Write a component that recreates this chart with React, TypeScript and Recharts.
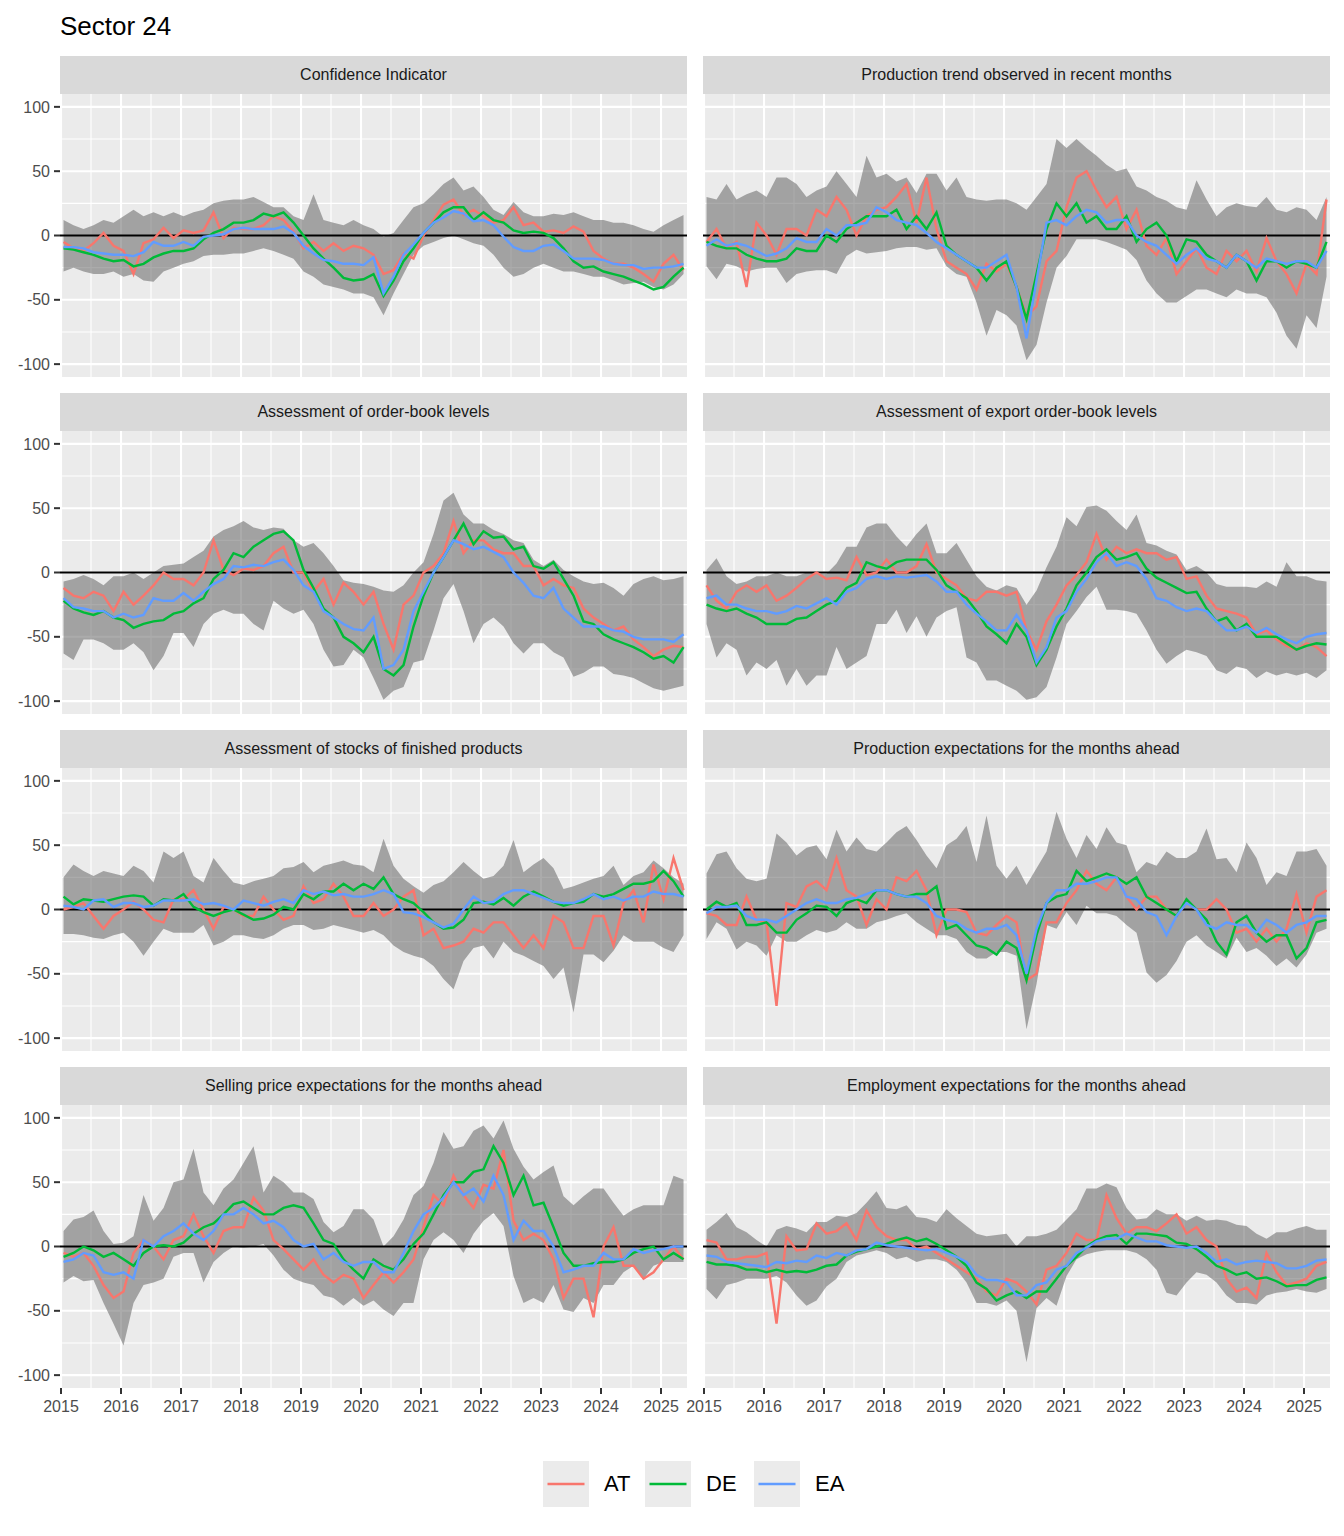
import React from 'react';
import {
  ComposedChart,
  Area,
  Line,
  XAxis,
  YAxis,
  CartesianGrid,
  ReferenceLine
} from 'recharts';

const months = [
  '2015-01', '2015-03', '2015-05', '2015-07', '2015-09', '2015-11',
  '2016-01', '2016-03', '2016-05', '2016-07', '2016-09', '2016-11',
  '2017-01', '2017-03', '2017-05', '2017-07', '2017-09', '2017-11',
  '2018-01', '2018-03', '2018-05', '2018-07', '2018-09', '2018-11',
  '2019-01', '2019-03', '2019-05', '2019-07', '2019-09', '2019-11',
  '2020-01', '2020-03', '2020-05', '2020-07', '2020-09', '2020-11',
  '2021-01', '2021-03', '2021-05', '2021-07', '2021-09', '2021-11',
  '2022-01', '2022-03', '2022-05', '2022-07', '2022-09', '2022-11',
  '2023-01', '2023-03', '2023-05', '2023-07', '2023-09', '2023-11',
  '2024-01', '2024-03', '2024-05', '2024-07', '2024-09', '2024-11',
  '2025-01', '2025-03', '2025-05'
];

const yearTicks = [2015, 2016, 2017, 2018, 2019, 2020, 2021, 2022, 2023, 2024, 2025];
const halfYears = [2015.5, 2016.5, 2017.5, 2018.5, 2019.5, 2020.5, 2021.5, 2022.5, 2023.5, 2024.5];
const valueTicks = [-100, -50, 0, 50, 100];
const minorValues = [-75, -25, 25, 75];

// Confidence Indicator
const ciAT = [-5, -10, -12, -6, 2, -8, -12, -30, -6, -3, 6, -2, 4, 2, 4, 18, -2, 6, 5, 5, 8, 15, 12, 3, -10, -5, -12, -6, -12, -8, -10, -15, -30, -27, -14, -18, 0, 12, 24, 28, 16, 20, 15, 10, 12, 22, 8, 10, 3, 4, 2, 7, 3, -12, -18, -22, -22, -25, -30, -36, -22, -15, -27];
const ciDE = [-10, -11, -13, -15, -18, -20, -19, -24, -22, -17, -14, -12, -12, -10, -3, 2, 5, 10, 10, 12, 17, 15, 18, 10, 0, -10, -18, -25, -33, -35, -34, -30, -47, -35, -20, -10, 2, 10, 18, 22, 22, 12, 18, 12, 10, 4, 2, 3, 2, -2, -10, -20, -25, -24, -28, -30, -32, -35, -38, -42, -40, -32, -25];
const ciEA = [-9, -9, -10, -13, -14, -15, -15, -16, -13, -5, -8, -8, -5, -8, -1, 0, 1, 5, 6, 5, 5, 5, 7, 2, -8, -14, -19, -20, -22, -22, -23, -17, -45, -32, -15, -7, 2, 10, 14, 19, 17, 11, 12, 8, -1, -9, -12, -12, -8, -7, -12, -18, -18, -18, -19, -22, -23, -23, -26, -25, -25, -24, -22];
const ciLo = [-28, -25, -28, -30, -30, -28, -32, -30, -35, -36, -28, -25, -22, -20, -16, -15, -15, -14, -14, -12, -10, -12, -15, -18, -28, -32, -38, -40, -42, -45, -45, -48, -62, -45, -30, -15, -8, -5, -2, 0, -3, -6, -8, -15, -25, -32, -30, -25, -22, -25, -28, -28, -30, -32, -32, -35, -38, -37, -36, -40, -42, -38, -30];
const ciHi = [12, 8, 5, 8, 12, 10, 15, 20, 15, 18, 15, 18, 15, 18, 20, 25, 27, 28, 28, 30, 26, 22, 22, 15, 12, 32, 12, 10, 8, 12, 8, 5, -1, 2, 12, 22, 25, 32, 40, 45, 35, 38, 30, 20, 16, 26, 18, 15, 15, 17, 16, 18, 15, 12, 12, 10, 10, 8, 5, 3, 8, 12, 16];

// Production trend observed in recent months
const ptAT = [-5, 5, -10, -5, -40, 10, 0, -15, 5, 5, 0, 20, 15, 30, 20, 0, 15, 20, 22, 30, 40, 10, 45, 5, -20, -25, -30, -42, -22, -28, -22, -40, -63, -55, -20, -12, 22, 45, 50, 35, 22, 30, 5, 20, -8, -15, -2, -30, -20, -10, -25, -30, -12, -20, -12, -28, -2, -20, -30, -45, -22, -30, 28];
const ptDE = [-5, -8, -10, -10, -15, -18, -20, -20, -18, -10, -12, -12, 0, -5, 5, 10, 15, 15, 15, 20, 5, 15, 5, 18, -8, -15, -20, -25, -35, -25, -20, -40, -65, -30, 5, 25, 15, 25, 10, 15, 5, 5, 15, -5, 5, 10, 0, -20, -3, -5, -15, -20, -25, -15, -20, -35, -20, -20, -25, -20, -22, -25, -5];
const ptEA = [-8, -3, -8, -6, -8, -12, -16, -14, -10, -2, -5, -5, 5, 0, 8, 8, 10, 22, 18, 12, 10, 8, 2, -5, -10, -15, -20, -25, -25, -20, -15, -40, -80, -35, 10, 12, 8, 15, 20, 18, 10, 12, 12, 0, -5, -8, -15, -22, -15, -10, -18, -20, -25, -15, -20, -25, -18, -20, -22, -20, -20, -25, -12];
const ptLo = [-24, -34, -22, -24, -28, -26, -25, -25, -37, -30, -28, -27, -27, -30, -16, -11, -14, -13, -12, -10, -9, -9, -11, -10, -24, -30, -32, -52, -78, -58, -62, -70, -97, -85, -52, -25, -16, -3, -3, -3, -5, -8, -11, -19, -35, -45, -52, -52, -47, -42, -42, -45, -48, -42, -45, -45, -48, -60, -78, -88, -62, -72, -32];
const ptHi = [30, 28, 40, 28, 32, 35, 30, 45, 45, 40, 30, 35, 38, 50, 40, 30, 62, 45, 48, 42, 45, 33, 48, 48, 35, 45, 30, 28, 27, 28, 28, 25, 20, 30, 40, 75, 68, 75, 68, 62, 55, 50, 52, 38, 35, 30, 27, 22, 20, 43, 28, 15, 22, 25, 23, 22, 30, 20, 18, 22, 20, 12, 30];

// Assessment of order-book levels
const obAT = [-12, -18, -20, -15, -18, -30, -15, -25, -18, -10, 0, -5, -5, -10, 0, 25, 2, -2, 3, 2, 5, 15, 20, 0, 0, -15, -5, -25, -8, -15, -25, -15, -40, -60, -25, -18, 0, 5, 15, 40, 15, 25, 25, 18, 15, 15, 5, 5, -10, -5, -10, -12, -28, -35, -40, -45, -42, -52, -58, -65, -60, -57, -58];
const obDE = [-22, -28, -31, -33, -30, -35, -37, -43, -40, -38, -37, -32, -30, -24, -20, -5, 2, 15, 12, 20, 25, 30, 32, 25, 2, -12, -28, -35, -50, -55, -62, -50, -75, -80, -72, -42, -18, 0, 12, 25, 38, 22, 32, 27, 28, 18, 20, 5, 3, 8, -5, -18, -38, -40, -48, -52, -55, -58, -62, -67, -65, -70, -58];
const obEA = [-20, -27, -28, -30, -30, -35, -32, -35, -33, -20, -22, -22, -16, -22, -15, -9, -5, 5, 4, 6, 5, 8, 10, 2, -10, -15, -30, -35, -40, -44, -45, -35, -75, -72, -60, -30, -15, 0, 12, 25, 22, 18, 20, 16, 12, 0, -8, -18, -20, -12, -28, -35, -42, -42, -42, -45, -46, -50, -52, -52, -52, -54, -48];
const obLo = [-63, -68, -52, -52, -55, -60, -60, -55, -62, -76, -65, -47, -47, -58, -40, -32, -29, -32, -32, -40, -45, -22, -28, -32, -29, -40, -60, -73, -72, -60, -66, -82, -99, -92, -89, -70, -68, -45, -20, -9, -30, -55, -40, -35, -42, -55, -63, -55, -55, -62, -66, -81, -78, -73, -73, -79, -80, -82, -86, -90, -92, -90, -88];
const obHi = [-7, -5, -2, -5, -10, -3, -3, 0, -5, 0, 5, 6, 7, 12, 17, 28, 33, 36, 40, 35, 33, 35, 34, 25, 20, 23, 15, 5, -6, -8, -9, -11, -14, -15, -10, 0, 8, 30, 56, 62, 45, 38, 38, 33, 30, 25, 23, 10, 5, 10, 2, -3, -7, -9, -8, -12, -18, -9, -5, -3, -6, -5, -3];

// Assessment of export order-book levels
const eoAT = [-10, -22, -28, -15, -10, -15, -10, -22, -18, -12, -5, 0, -5, -4, -6, 12, -2, 0, 10, 0, 0, 5, 22, 0, -5, -10, -20, -22, -15, -15, -18, -15, -45, -60, -38, -25, -10, -2, 8, 30, 10, 20, 15, 18, 15, 15, 10, 12, -5, -3, -18, -28, -30, -32, -35, -48, -45, -52, -57, -60, -55, -58, -65];
const eoDE = [-25, -28, -30, -28, -32, -35, -40, -40, -40, -36, -35, -30, -25, -22, -12, -8, 8, 5, 3, 8, 10, 10, 10, 2, -10, -15, -20, -30, -42, -48, -55, -40, -50, -72, -60, -42, -28, -10, 0, 12, 18, 10, 12, 15, 3, -4, -8, -12, -16, -15, -28, -38, -35, -45, -40, -50, -50, -50, -55, -60, -57, -55, -56];
const eoEA = [-20, -18, -25, -25, -28, -30, -30, -32, -30, -26, -28, -24, -20, -25, -15, -12, -5, -3, -5, -3, -4, -3, -2, -7, -15, -15, -25, -32, -38, -45, -45, -33, -45, -70, -58, -35, -30, -15, -5, 8, 15, 5, 8, 5, -5, -20, -22, -27, -30, -28, -30, -38, -45, -45, -42, -47, -43, -48, -52, -55, -50, -48, -47];
const eoLo = [-40, -66, -55, -60, -80, -70, -75, -68, -88, -75, -88, -80, -80, -58, -75, -70, -65, -40, -40, -29, -47, -34, -50, -35, -30, -27, -66, -70, -84, -84, -88, -92, -99, -97, -89, -66, -40, -30, -19, -11, -29, -29, -30, -32, -45, -60, -71, -65, -60, -62, -65, -76, -79, -73, -75, -82, -77, -80, -78, -80, -78, -82, -76];
const eoHi = [2, 11, -3, -9, -7, -3, -3, 0, -3, -3, 0, -1, -1, 7, 20, 20, 35, 38, 38, 28, 20, 30, 38, 15, 15, 23, 10, -3, -11, -14, -10, -12, -25, -14, 4, 20, 43, 36, 51, 52, 48, 40, 33, 45, 23, 21, 17, 14, 2, 5, 0, -9, -11, -11, -11, -12, -7, -11, 8, -3, -3, -6, -7];

// Assessment of stocks of finished products
const stAT = [0, 2, 5, -5, -15, -5, 0, 6, 0, -8, -10, 8, 8, 15, 0, -15, 2, 0, -5, -5, 10, 0, -8, -5, 18, 5, 8, 20, 10, -5, -5, 5, -5, 0, 10, 15, -20, -15, -30, -28, -25, -15, -18, -10, -10, -20, -30, -20, -30, -5, -10, -30, -30, -5, -5, -28, 5, 15, -10, 35, 8, 40, 15];
const stDE = [10, 4, 8, 7, 6, 8, 10, 11, 10, 3, 8, 7, 12, 2, -2, -5, -2, 0, -4, -8, -7, -4, 2, 0, 12, 8, 14, 14, 20, 15, 20, 16, 25, 12, 8, 5, -2, -10, -15, -14, -8, 5, 6, 4, 9, 3, 10, 14, 10, 6, 3, 5, 6, 12, 10, 12, 16, 20, 20, 22, 30, 22, 10];
const stEA = [3, 2, 0, 7, 8, 2, 5, 5, 2, 3, 7, 7, 7, 8, 4, 5, 3, 0, 7, 5, 3, 6, 8, 5, 15, 12, 14, 11, 12, 10, 10, 12, 15, 12, -2, -3, -6, -10, -14, -11, 0, 10, 5, 6, 12, 15, 15, 12, 9, 6, 5, 5, 8, 12, 8, 10, 7, 10, 10, 14, 12, 12, 10];
const stLo = [-19, -19, -20, -22, -23, -20, -18, -25, -36, -25, -15, -18, -18, -18, -12, -28, -25, -20, -20, -22, -23, -20, -15, -12, -12, -16, -15, -12, -14, -16, -18, -16, -20, -28, -33, -36, -38, -44, -54, -62, -40, -30, -28, -38, -25, -33, -36, -40, -44, -54, -45, -80, -35, -35, -41, -32, -20, -25, -25, -25, -30, -33, -20];
const stHi = [25, 35, 30, 26, 30, 28, 26, 34, 30, 21, 45, 40, 45, 26, 21, 40, 30, 21, 19, 22, 24, 26, 32, 33, 37, 29, 34, 36, 38, 35, 34, 29, 55, 34, 24, 18, 13, 19, 22, 29, 37, 30, 24, 26, 34, 54, 29, 35, 40, 32, 16, 18, 21, 24, 26, 34, 19, 26, 29, 38, 32, 25, 20];

// Production expectations for the months ahead
const peAT = [-3, -5, -12, -12, 10, -8, -10, -75, 5, 2, 18, 22, 15, 40, 15, 10, -12, 8, 0, 25, 22, 30, 15, -20, 0, 0, -2, -18, -20, -12, -5, -10, -55, -50, -10, -10, 5, 15, 30, 20, 15, 25, 10, 0, 10, 10, 0, -5, 5, 0, 0, 8, 0, -18, -15, -25, -15, -25, -15, 12, -18, 10, 15];
const peDE = [0, 6, 2, 5, -12, -12, -10, -18, -18, -8, -3, 3, 2, -5, 5, 8, 5, 15, 15, 12, 10, 12, 12, 18, -15, -12, -20, -28, -30, -35, -25, -30, -55, -20, 5, 10, 12, 30, 22, 25, 28, 25, 20, 25, 10, 5, 0, -5, 8, 0, -8, -25, -35, -10, -5, -18, -25, -20, -20, -38, -30, -10, -8];
const peEA = [-3, 2, 2, 3, -5, -8, -8, -10, -5, 0, 5, 8, 5, 5, 8, 9, 12, 15, 15, 12, 10, 10, 5, -5, -8, -10, -15, -18, -15, -15, -12, -20, -50, -15, 5, 15, 15, 20, 20, 22, 25, 25, 10, 8, -2, -5, -20, -5, 5, 0, -12, -15, -10, -12, -12, -18, -8, -12, -18, -12, -10, -5, -5];
const peLo = [-23, -10, -15, -31, -25, -28, -36, -20, -25, -25, -20, -16, -18, -16, -10, -15, -15, -10, -8, -5, -3, -10, -15, -20, -20, -23, -33, -38, -38, -33, -33, -36, -93, -58, -12, -15, -2, -12, 3, -3, -3, -5, -12, -18, -49, -57, -51, -40, -25, -20, -28, -33, -38, -22, -33, -30, -36, -44, -38, -45, -35, -18, -15];
const peHi = [28, 43, 45, 32, 24, 22, 24, 59, 52, 42, 48, 50, 39, 62, 45, 56, 47, 45, 52, 60, 65, 54, 42, 32, 50, 55, 65, 37, 73, 34, 24, 34, 19, 32, 45, 76, 55, 40, 58, 47, 64, 52, 50, 29, 37, 34, 45, 40, 40, 45, 63, 39, 40, 29, 52, 40, 19, 29, 26, 45, 45, 47, 34];

// Selling price expectations for the months ahead
const spAT = [-5, -8, -5, -15, -30, -40, -35, -5, 5, 0, -10, 5, 8, 25, 8, -5, 12, 15, 15, 38, 28, 5, -2, -10, -18, -10, -22, -28, -22, -25, -40, -30, -20, -28, -20, -10, 15, 40, 32, 55, 40, 30, 48, 45, 75, 20, 5, 10, 5, -10, -40, -25, -25, -55, 0, 15, -15, -15, -25, -20, -10, 0, -10];
const spDE = [-8, -5, 0, -3, -8, -5, -10, -15, -5, 0, 1, 0, 3, 10, 15, 18, 25, 33, 35, 30, 25, 25, 30, 32, 30, 18, 5, 2, -10, -18, -25, -10, -15, -18, -10, 2, 10, 25, 40, 50, 50, 58, 60, 78, 65, 40, 55, 32, 34, 15, -5, -15, -15, -13, -12, -12, -10, -5, -2, 0, -10, -5, -10];
const spEA = [-12, -10, -5, -7, -20, -22, -20, -25, 5, 0, 8, 12, 18, 10, 5, 12, 25, 25, 30, 25, 18, 20, 15, 5, 0, 2, -10, -5, -12, -15, -12, -12, -20, -20, -5, 12, 25, 30, 38, 50, 40, 45, 35, 55, 40, 5, 20, 12, 12, 0, -20, -18, -15, -15, -5, -10, -10, -2, -5, -3, -2, 0, 0];
const spLo = [-28, -23, -27, -26, -44, -60, -77, -44, -30, -28, -25, -8, -5, -5, -28, -12, -5, 0, -1, 0, 2, -7, -18, -25, -28, -30, -38, -40, -46, -40, -46, -42, -49, -54, -44, -44, -10, 5, 11, 5, -5, 10, 20, 26, 16, -23, -44, -40, -44, -30, -49, -51, -40, -44, -30, -30, -20, -15, -25, -15, -12, -12, -12];
const spHi = [12, 21, 23, 28, 12, 2, 3, 8, 40, 20, 30, 50, 52, 76, 42, 32, 45, 52, 65, 78, 42, 55, 50, 42, 42, 37, 19, 11, 16, 29, 29, 21, 0, 8, 21, 40, 47, 65, 89, 76, 78, 90, 94, 84, 98, 76, 62, 52, 58, 63, 39, 32, 39, 45, 45, 34, 24, 29, 32, 32, 32, 55, 52];

// Employment expectations for the months ahead
const emAT = [5, 3, -10, -10, -8, -8, -5, -60, 8, -3, -2, 18, 10, 12, 18, 5, 28, 15, 8, 5, 5, -2, 0, -5, -10, -15, -20, -25, -35, -38, -25, -28, -35, -45, -18, -15, -5, 10, 5, 5, 40, 22, 10, 15, 15, 12, 18, 25, 10, 15, 5, 0, -25, -35, -32, -40, -5, -20, -30, -28, -25, -15, -12];
const emDE = [-12, -14, -14, -15, -18, -18, -20, -18, -20, -19, -20, -18, -15, -14, -7, -4, -2, 0, 2, 5, 7, 4, 6, 2, -3, -8, -15, -28, -33, -42, -38, -35, -40, -35, -35, -25, -15, -8, 0, 5, 8, 9, 2, 10, 10, 9, 8, 3, 2, -2, -8, -15, -18, -22, -20, -25, -24, -27, -31, -30, -30, -26, -24];
const emEA = [-7, -8, -12, -13, -14, -15, -16, -12, -13, -11, -12, -7, -9, -5, -7, -3, -2, 3, 1, 0, -1, -2, -3, -2, -5, -8, -12, -22, -26, -26, -28, -38, -38, -30, -28, -18, -15, -5, -1, 4, 6, 6, 10, 7, 4, 4, 1, 0, -1, 0, -5, -12, -10, -14, -12, -11, -12, -13, -17, -17, -15, -11, -10];
const emLo = [-33, -41, -30, -28, -25, -25, -25, -23, -28, -38, -46, -42, -31, -25, -12, -7, -5, -3, -5, -10, -8, -12, -10, -10, -12, -18, -28, -44, -44, -46, -42, -50, -90, -48, -40, -46, -23, -10, -6, -4, -3, -3, -3, -5, -10, -18, -36, -38, -28, -20, -22, -28, -38, -44, -44, -45, -38, -36, -35, -33, -35, -36, -33];
const emHi = [13, 19, 26, 15, 11, 5, 0, 13, 16, 14, 11, 19, 19, 24, 23, 26, 34, 43, 30, 29, 32, 23, 22, 19, 29, 22, 16, 10, 8, 9, 10, 0, 8, 8, 10, 13, 21, 29, 45, 45, 49, 46, 30, 21, 22, 29, 25, 25, 20, 24, 20, 21, 20, 17, 16, 10, 6, 11, 11, 14, 16, 13, 13];

const panels = [
  { title: 'Confidence Indicator', at: ciAT, de: ciDE, ea: ciEA, lo: ciLo, hi: ciHi },
  { title: 'Production trend observed in recent months', at: ptAT, de: ptDE, ea: ptEA, lo: ptLo, hi: ptHi },
  { title: 'Assessment of order-book levels', at: obAT, de: obDE, ea: obEA, lo: obLo, hi: obHi },
  { title: 'Assessment of export order-book levels', at: eoAT, de: eoDE, ea: eoEA, lo: eoLo, hi: eoHi },
  { title: 'Assessment of stocks of finished products', at: stAT, de: stDE, ea: stEA, lo: stLo, hi: stHi },
  { title: 'Production expectations for the months ahead', at: peAT, de: peDE, ea: peEA, lo: peLo, hi: peHi },
  { title: 'Selling price expectations for the months ahead', at: spAT, de: spDE, ea: spEA, lo: spLo, hi: spHi },
  { title: 'Employment expectations for the months ahead', at: emAT, de: emDE, ea: emEA, lo: emLo, hi: emHi }
];

const COLORS = { AT: '#F8766D', DE: '#00BA38', EA: '#619CFF' };
const FONT = '"Liberation Sans", Arial, Helvetica, sans-serif';

const PLOT_W = 627;
const PLOT_H = 283;
const STRIP_H = 38;
const Y_AXIS_W = 60;
const RIGHT_PAD = 30; // room for the first x label of the right column
const X_AXIS_H = 34;
const ROW_TOP = [56, 393, 730, 1067];
const COL_LEFT = [60, 703];

const toYear = (m: string) => {
  const [y, mo] = m.split('-').map(Number);
  return y + (mo - 0.5) / 12;
};

// grid positions go through the axis scale that recharts hands to the grid
const scaleOf = (axis: any) => {
  const s = axis && axis.scale;
  if (!s) return null;
  if (typeof s === 'function') return (v: number) => s(v) as number;
  if (typeof s.map === 'function') return (v: number) => s.map(v) as number;
  return null;
};
const gridAt = (values: number[], key: 'xAxis' | 'yAxis') => (props: any) => {
  const f = scaleOf(props[key]);
  return f ? values.map((v) => f(v)).filter((v) => Number.isFinite(v)) : [];
};

type PanelDef = (typeof panels)[number];

const Facet = ({ p, row, col }: { p: PanelDef; row: number; col: number }) => {
  const data = months.map((m, i) => ({
    t: toYear(m),
    AT: p.at[i],
    DE: p.de[i],
    EA: p.ea[i],
    band: [p.lo[i], p.hi[i]]
  }));
  const showY = col === 0;
  const showX = row === 3;
  const padLeft = showY ? 0 : RIGHT_PAD;
  const axisW = showY ? Y_AXIS_W : 0;
  const chartW = PLOT_W + axisW + padLeft;
  const chartH = PLOT_H + (showX ? X_AXIS_H : 0);
  const top = ROW_TOP[row];
  const plotLeft = COL_LEFT[col];

  return (
    <>
      <div
        style={{
          position: 'absolute',
          left: plotLeft,
          top,
          width: PLOT_W,
          height: STRIP_H,
          background: '#D9D9D9',
          color: '#1A1A1A',
          fontSize: 16,
          display: 'flex',
          alignItems: 'center',
          justifyContent: 'center'
        }}
      >
        {p.title}
      </div>
      <div style={{ position: 'absolute', left: plotLeft - axisW - padLeft, top: top + STRIP_H }}>
        <ComposedChart width={chartW} height={chartH} data={data} margin={{ top: 0, right: 0, bottom: 0, left: padLeft }}>
          <CartesianGrid
            fill="#EBEBEB"
            stroke="#FFFFFF"
            strokeWidth={1.1}
            horizontalCoordinatesGenerator={gridAt(minorValues, 'yAxis')}
            verticalCoordinatesGenerator={gridAt(halfYears, 'xAxis')}
          />
          <CartesianGrid
            stroke="#FFFFFF"
            strokeWidth={2.1}
            horizontalCoordinatesGenerator={gridAt(valueTicks, 'yAxis')}
            verticalCoordinatesGenerator={gridAt(yearTicks, 'xAxis')}
          />
          <XAxis
            dataKey="t"
            type="number"
            domain={[2014.983, 2025.433]}
            allowDataOverflow
            ticks={yearTicks}
            interval={0}
            height={showX ? X_AXIS_H : 0}
            axisLine={false}
            tick={showX ? { fill: '#4D4D4D', fontSize: 16 } : false}
            tickLine={showX ? { stroke: '#333333', strokeWidth: 2 } : false}
            tickSize={6}
            tickMargin={7}
            tickFormatter={(v: number) => String(v)}
          />
          <YAxis
            type="number"
            domain={[-110, 110]}
            allowDataOverflow
            ticks={valueTicks}
            interval={0}
            width={axisW}
            axisLine={false}
            tick={showY ? { fill: '#4D4D4D', fontSize: 16 } : false}
            tickLine={showY ? { stroke: '#333333', strokeWidth: 2 } : false}
            tickSize={6}
            tickMargin={4}
          />
          <Area
            dataKey="band"
            type="linear"
            stroke="none"
            fill="#666666"
            fillOpacity={0.55}
            isAnimationActive={false}
          />
          <ReferenceLine y={0} stroke="#000000" strokeWidth={2.2} />
          <Line dataKey="AT" type="linear" stroke={COLORS.AT} strokeWidth={2.4} dot={false} isAnimationActive={false} />
          <Line dataKey="DE" type="linear" stroke={COLORS.DE} strokeWidth={2.4} dot={false} isAnimationActive={false} />
          <Line dataKey="EA" type="linear" stroke={COLORS.EA} strokeWidth={2.4} dot={false} isAnimationActive={false} />
        </ComposedChart>
      </div>
    </>
  );
};

const legendItems = [
  { key: 'AT', left: 543 },
  { key: 'DE', left: 645 },
  { key: 'EA', left: 754 }
];

export default function App() {
  return (
    <div
      style={{
        position: 'absolute',
        left: 0,
        top: 0,
        width: 1344,
        height: 1536,
        background: '#FFFFFF',
        fontFamily: FONT
      }}
    >
      <div style={{ position: 'absolute', left: 60, top: 13, fontSize: 26, lineHeight: '26px', color: '#000' }}>
        Sector 24
      </div>
      {panels.map((p, i) => (
        <Facet key={p.title} p={p} row={Math.floor(i / 2)} col={i % 2} />
      ))}
      {legendItems.map((it) => (
        <div key={it.key} style={{ position: 'absolute', left: it.left, top: 1461, height: 46, display: 'flex', alignItems: 'center' }}>
          <svg width={46} height={46}>
            <rect x={0} y={0} width={46} height={46} fill="#EBEBEB" />
            <line x1={4.5} y1={23} x2={41.5} y2={23} stroke={COLORS[it.key as keyof typeof COLORS]} strokeWidth={2.5} />
          </svg>
          <span style={{ marginLeft: 15, fontSize: 22, color: '#000' }}>{it.key}</span>
        </div>
      ))}
    </div>
  );
}
